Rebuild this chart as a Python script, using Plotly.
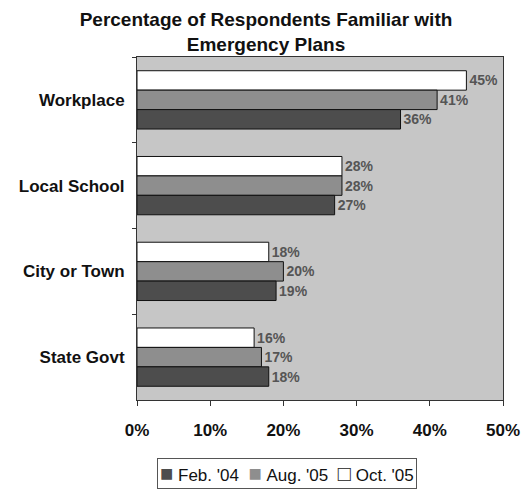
import plotly.graph_objects as go

# Survey results: share of respondents familiar with emergency plans
categories = ["Workplace", "Local School", "City or Town", "State Govt"]
series_names = ["Feb. '04", "Aug. '05", "Oct. '05"]
feb_04 = [36, 27, 19, 18]
aug_05 = [41, 28, 20, 17]
oct_05 = [45, 28, 18, 16]
x_ticks = [0, 10, 20, 30, 40, 50]

series_values = [feb_04, aug_05, oct_05]
bar_colors = ["#4d4d4d", "#8e8e8e", "#ffffff"]

FONT = "Arial, Liberation Sans, sans-serif"

fig = go.Figure()
# With the category axis reversed, the last trace sits on top of each group,
# so the newest survey is added first.
for name, vals, color in reversed(list(zip(series_names, series_values, bar_colors))):
    fig.add_trace(go.Bar(
        name=name,
        y=categories,
        x=vals,
        orientation="h",
        marker=dict(color=color, line=dict(color="#111111", width=1)),
        text=[f"{v}%" for v in vals],
        textposition="outside",
        textfont=dict(family=FONT, size=14, color="#555555", weight="bold"),
        cliponaxis=False,
        hoverinfo="skip",
        showlegend=False,
    ))

# Compact boxed key under the axis
swatches = []
for name, color in zip(series_names, bar_colors):
    if color.lower() == "#ffffff":
        mark = "<span style='color:#222222;font-size:22px'>□</span>"
    else:
        mark = f"<span style='color:{color};font-size:22px'>■</span>"
    swatches.append(f"{mark}&nbsp;{name}")
legend_text = "&nbsp; ".join(swatches)

fig.add_annotation(
    text=legend_text,
    xref="paper", yref="paper",
    x=0.41, y=-0.213,
    xanchor="center", yanchor="middle",
    showarrow=False,
    font=dict(family=FONT, size=17, color="#111111"),
    bordercolor="#555555",
    borderwidth=1,
    borderpad=2,
    bgcolor="#ffffff",
)

fig.update_layout(
    width=532,
    height=492,
    margin=dict(l=137, r=21, t=57, b=92),
    paper_bgcolor="#ffffff",
    plot_bgcolor="#c6c6c6",
    barmode="group",
    bargap=0.32,
    bargroupgap=0,
    title=dict(
        text="<b>Percentage of Respondents Familiar with<br>Emergency Plans</b>",
        x=0.5,
        xanchor="center",
        y=0.947,
        yanchor="top",
        font=dict(family=FONT, size=19, color="#111111"),
    ),
    font=dict(family=FONT, color="#111111"),
    showlegend=False,
)

fig.update_xaxes(
    range=[0, 50],
    tickvals=x_ticks,
    ticktext=[f"{t}%" for t in x_ticks],
    ticks="outside",
    ticklen=5,
    tickcolor="#333333",
    showgrid=False,
    zeroline=False,
    showline=True,
    linecolor="#333333",
    linewidth=1,
    mirror=True,
    ticklabelstandoff=10,
    tickfont=dict(family=FONT, size=17, color="#111111", weight="bold"),
)

fig.update_yaxes(
    autorange="reversed",
    tickson="boundaries",
    ticks="outside",
    ticklen=4,
    tickcolor="#333333",
    showgrid=False,
    showline=True,
    linecolor="#333333",
    linewidth=1,
    mirror=True,
    ticklabelstandoff=8,
    tickfont=dict(family=FONT, size=17, color="#111111", weight="bold"),
)

fig.write_html("out.html")
